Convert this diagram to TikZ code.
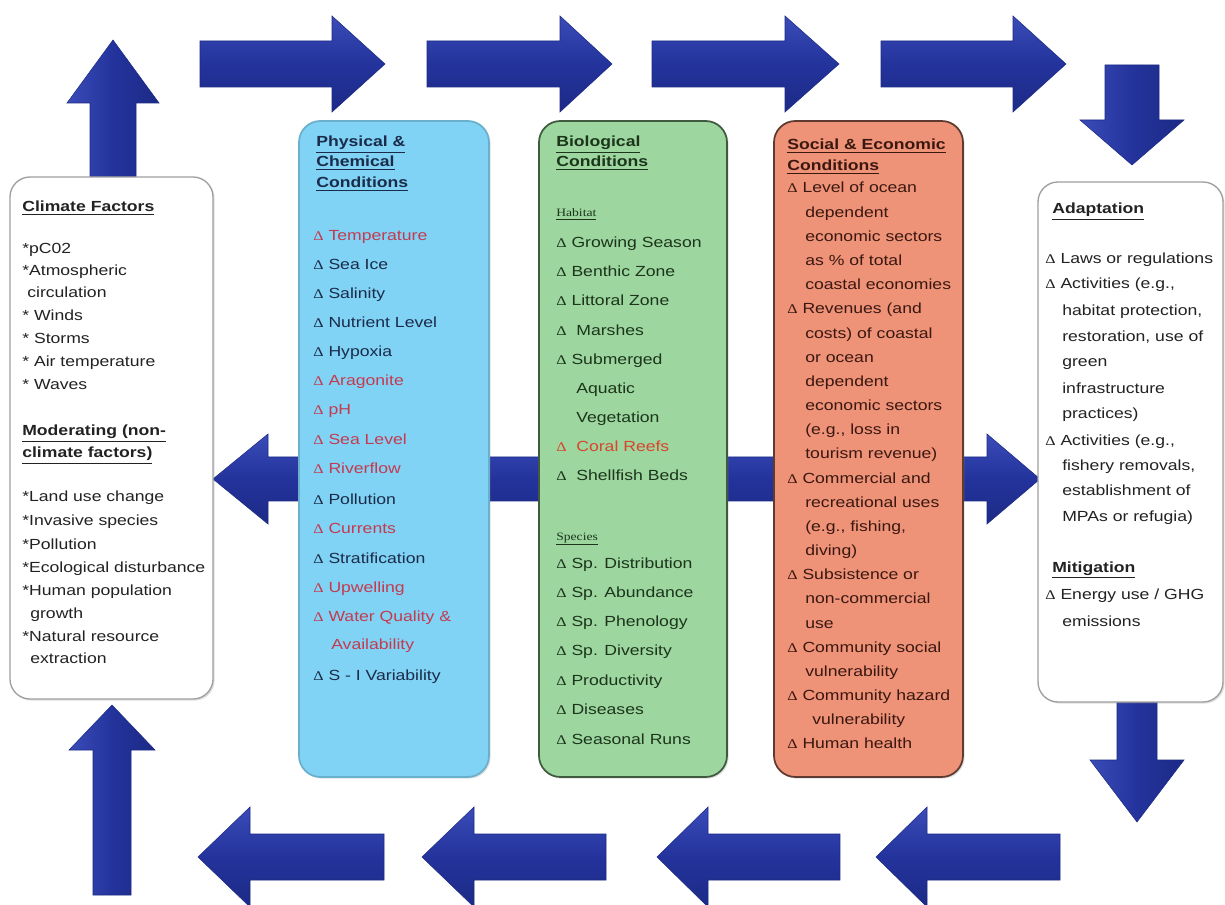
\documentclass[tikz,border=0pt]{standalone}
\usepackage{fontspec}
\setmainfont{Liberation Sans}
\newfontfamily\serifD{Liberation Serif}
\usetikzlibrary{fit,shadows}
\definecolor{physfill}{HTML}{80D3F4}
\definecolor{physedge}{HTML}{6AAFCB}
\definecolor{biofill}{HTML}{9DD69F}
\definecolor{bioedge}{HTML}{3F5A3F}
\definecolor{socfill}{HTML}{EE9278}
\definecolor{socedge}{HTML}{5E3A30}
\definecolor{phystxt}{HTML}{1B2B4A}
\definecolor{physred}{HTML}{C43A50}
\definecolor{biotxt}{HTML}{1C351C}
\definecolor{biored}{HTML}{D8452C}
\definecolor{soctxt}{HTML}{3A1810}
\definecolor{graytxt}{HTML}{222222}
\definecolor{arrA}{HTML}{3A4CB8}
\definecolor{arrB}{HTML}{24339C}
\definecolor{arrC}{HTML}{1C2A86}
\newcommand\dlt{{\serifD\fontsize{10}{10}\selectfont Δ}\ }
\newcommand\hd[1]{\textbf{\underline{#1}}}
\newcommand\redP{\color{physred}}
\newcommand\redB{\color{biored}}
\newcommand\srf[1]{{\serifD\fontsize{8.5}{10}\selectfont\underline{#1}}}
\tikzset{
  harrow/.style={top color=arrA, bottom color=arrC, middle color=arrB, draw=arrC, line width=0.4pt},
  varrow/.style={left color=arrA, right color=arrC, middle color=arrB, draw=arrC, line width=0.4pt},
  tx/.style={anchor=base west, inner sep=0pt, xscale=1.2, font=\fontsize{11}{13}\selectfont},
  boxw/.style={inner sep=0pt, rounded corners=15pt, draw=gray!75, line width=1pt, fill=white,
    drop shadow={opacity=0.25, shadow xshift=1.2pt, shadow yshift=-1.2pt}},
  boxc/.style={inner sep=0pt, rounded corners=16pt, line width=1.3pt,
    drop shadow={opacity=0.25, shadow xshift=1.2pt, shadow yshift=-1.2pt}}
}
% horizontal block arrow: tail x, tip x, centre y, shaft half, head half, head base x
\newcommand\HArr[6]{\path[harrow] (#1,#3-#4) -- (#6,#3-#4) -- (#6,#3-#5) -- (#2,#3) -- (#6,#3+#5) -- (#6,#3+#4) -- (#1,#3+#4) -- cycle;}
% vertical block arrow: tail y, tip y, centre x, shaft half, head half, head base y
\newcommand\VArr[6]{\path[varrow] (#3-#4,#1) -- (#3-#4,#6) -- (#3-#5,#6) -- (#3,#2) -- (#3+#5,#6) -- (#3+#4,#6) -- (#3+#4,#1) -- cycle;}
\begin{document}
\begin{tikzpicture}[x=0.75pt,y=-0.75pt]
\useasboundingbox (0,0) rectangle (1225,905);
\fill[white] (0,0) rectangle (1225,905);

% ---- arrows ----
\HArr{200}{385}{64}{23}{48}{332}
\HArr{427}{612}{64}{23}{48}{560}
\HArr{652}{839}{64}{23}{48}{785}
\HArr{881}{1066}{64}{23}{48}{1013}
\VArr{65}{165}{1132}{27}{52}{120}
\VArr{177}{40}{113}{23}{46}{103}
\VArr{895}{705}{112}{19}{43}{750}
\VArr{700}{822}{1137}{20}{47}{760}
\HArr{1060}{876}{857}{23}{50}{927}
\HArr{840}{657}{857}{23}{50}{708}
\HArr{606}{422}{857}{23}{50}{474}
\HArr{384}{198}{857}{23}{50}{250}
\path[harrow] (213,479) -- (268,434) -- (268,457) -- (987,457) -- (987,434) -- (1040,479)
  -- (987,524) -- (987,501) -- (268,501) -- (268,524) -- cycle;

% ---- boxes ----
\node[boxw, fit={(10,177)(213,699)}] (climate) {};
\node[boxw, fit={(1038,182)(1223,702)}] (adapt) {};
\node[boxc, fill=physfill, draw=physedge, fit={(299,121)(489,777)}] (phys) {};
\node[boxc, fill=biofill, draw=bioedge, fit={(539,121)(727,777)}] (bio) {};
\node[boxc, fill=socfill, draw=socedge, fit={(774,121)(963,777)}] (soc) {};

% ---- climate box text ----
\foreach \xx/\yy/\lbl [count=\i] in {
  22/208/{\hd{Climate Factors}},
  22/250/{*pC02}, 22/272/{*Atmospheric}, 27/294/{circulation},
  22/317/{* Winds}, 22/340/{* Storms}, 22/363/{* Air temperature}, 22/386/{* Waves},
  22/432/{\hd{Moderating (non-}}, 22/454/{\hd{climate factors)}},
  22/498/{*Land use change}, 22/521/{*Invasive species}, 22/545/{*Pollution},
  22/568/{*Ecological disturbance}, 22/591/{*Human population}, 30/614/{growth},
  22/637/{*Natural resource}, 30/659/{extraction}}
  \node[tx, text=graytxt] (cl\i) at (\xx,\yy+4) {\lbl};

% ---- physical box text ----
\foreach \xx/\yy/\lbl [count=\i] in {
  316/143/{\hd{Physical \&}}, 316/163/{\hd{Chemical}}, 316/184/{\hd{Conditions}},
  313/237/{\redP\dlt Temperature}, 313/266/{\dlt Sea Ice}, 313/295/{\dlt Salinity},
  313/324/{\dlt Nutrient Level}, 313/353/{\dlt Hypoxia}, 313/382/{\redP\dlt Aragonite},
  313/411/{\redP\dlt pH}, 313/441/{\redP\dlt Sea Level}, 313/470/{\redP\dlt Riverflow},
  313/500/{\dlt Pollution}, 313/529/{\redP\dlt Currents}, 313/559/{\dlt Stratification},
  313/588/{\redP\dlt Upwelling}, 313/617/{\redP\dlt Water Quality \&},
  331/645/{\redP Availability}, 313/676/{\dlt S - I Variability}}
  \node[tx, text=phystxt] (ph\i) at (\xx,\yy+4) {\lbl};

% ---- biological box text ----
\foreach \xx/\yy/\lbl [count=\i] in {
  556/143/{\hd{Biological}}, 556/163/{\hd{Conditions}},
  556/213/{\srf{Habitat}},
  556/244/{\dlt Growing Season}, 556/273/{\dlt Benthic Zone}, 556/302/{\dlt Littoral Zone},
  556/332/{\dlt\ Marshes}, 556/361/{\dlt Submerged}, 576/390/{Aquatic}, 576/419/{Vegetation},
  556/448/{\redB\dlt\ Coral Reefs}, 556/477/{\dlt\ Shellfish Beds},
  556/536/{\srf{Species}},
  556/564/{\dlt Sp. Distribution}, 556/593/{\dlt Sp. Abundance}, 556/622/{\dlt Sp. Phenology},
  556/651/{\dlt Sp. Diversity}, 556/681/{\dlt Productivity}, 556/710/{\dlt Diseases},
  556/740/{\dlt Seasonal Runs}}
  \node[tx, text=biotxt] (bi\i) at (\xx,\yy+4) {\lbl};

% ---- social box text ----
\node[tx, text=soctxt] (soh1) at (787,146+4) {\hd{Social \& Economic}};
\node[tx, text=soctxt] (soh2) at (787,167+4) {\hd{Conditions}};
\foreach \xx/\lbl [count=\i from 0] in {
  787/{\dlt Level of ocean}, 805/{dependent}, 805/{economic sectors}, 805/{as \% of total},
  805/{coastal economies}, 787/{\dlt Revenues (and}, 805/{costs) of coastal}, 805/{or ocean},
  805/{dependent}, 805/{economic sectors}, 805/{(e.g., loss in}, 805/{tourism revenue)},
  787/{\dlt Commercial and}, 805/{recreational uses}, 805/{(e.g., fishing,}, 805/{diving)},
  787/{\dlt Subsistence or}, 805/{non-commercial}, 805/{use},
  787/{\dlt Community social}, 805/{vulnerability},
  787/{\dlt Community hazard}, 812/{vulnerability},
  787/{\dlt Human health}}
  \node[tx, text=soctxt] (so\i) at (\xx,193+24.17*\i) {\lbl};

% ---- adaptation box text ----
\foreach \xx/\yy/\lbl [count=\i] in {
  1052/210/{\hd{Adaptation}},
  1045/260/{\dlt Laws or regulations}, 1045/285/{\dlt Activities (e.g.,},
  1062/312/{habitat protection,}, 1062/338/{restoration, use of}, 1062/363/{green},
  1062/390/{infrastructure}, 1062/415/{practices)},
  1045/442/{\dlt Activities (e.g.,}, 1062/467/{fishery removals,},
  1062/492/{establishment of}, 1062/518/{MPAs or refugia)},
  1052/568/{\hd{Mitigation}},
  1045/595/{\dlt Energy use / GHG}, 1062/622/{emissions}}
  \node[tx, text=graytxt] (ad\i) at (\xx,\yy+4) {\lbl};
\end{tikzpicture}
\end{document}
